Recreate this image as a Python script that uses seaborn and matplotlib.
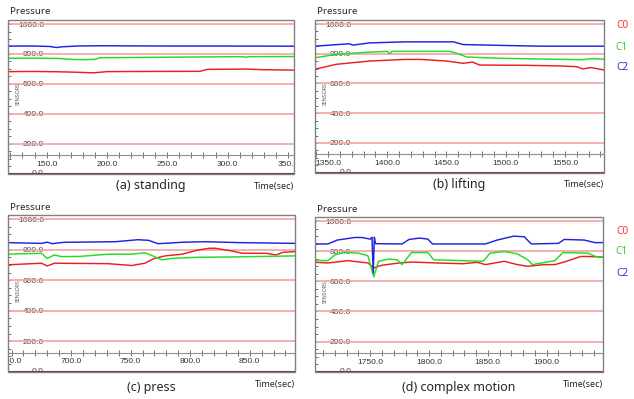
import numpy as np
import pandas as pd
import matplotlib
matplotlib.use("Agg")
import matplotlib.pyplot as plt
import seaborn as sns
from matplotlib.ticker import MultipleLocator, FormatStrFormatter
from matplotlib.patches import Rectangle

sns.set_style("white")
plt.rcParams["font.family"] = ["Noto Sans", "DejaVu Sans"]

# (a) standing
a_t_c0 = [118, 140, 160, 175, 189, 200, 230, 277, 283, 300, 315, 330, 355]
a_c0 = [682, 683, 681, 678, 674, 682, 683, 684, 697, 698, 699, 695, 692]
a_t_c1 = [118, 140, 160, 172, 180, 190, 194, 230, 277, 313, 315, 317, 355]
a_c1 = [771, 772, 770, 763, 762, 764, 775, 777, 780, 782, 777, 782, 783]
a_t_c2 = [118, 140, 153, 158, 163, 175, 194, 250, 300, 355]
a_c2 = [853, 853, 850, 843, 848, 853, 855, 853, 853, 852]

# (b) lifting
b_t_c0 = [1339, 1357, 1385, 1415, 1428, 1450, 1464, 1472, 1478, 1520, 1546, 1560, 1565, 1572, 1583]
b_c0 = [696, 729, 751, 762, 762, 751, 736, 744, 724, 722, 718, 713, 698, 707, 691]
b_t_c1 = [1339, 1357, 1385, 1400, 1402, 1404, 1453, 1458, 1467, 1497, 1551, 1565, 1573, 1583]
b_c1 = [773, 796, 811, 816, 800, 816, 816, 805, 778, 769, 762, 760, 767, 763]
b_t_c2 = [1339, 1364, 1368, 1371, 1385, 1415, 1456, 1464, 1497, 1530, 1583]
b_c2 = [851, 865, 867, 858, 873, 880, 880, 862, 856, 851, 851]

# (c) press
c_t_c0 = [645, 675, 680, 686, 731, 751, 762, 770, 779, 793, 807, 816, 821, 835, 844, 864, 872, 878, 888]
c_c0 = [700, 711, 693, 711, 708, 696, 711, 743, 759, 770, 798, 809, 809, 791, 776, 776, 765, 783, 787]
c_t_c1 = [645, 675, 680, 686, 692, 708, 731, 751, 762, 770, 776, 785, 807, 835, 888]
c_c1 = [770, 776, 743, 765, 754, 756, 770, 770, 780, 754, 733, 743, 750, 752, 759]
c_t_c2 = [645, 675, 680, 684, 694, 737, 756, 765, 773, 793, 813, 841, 888]
c_c2 = [846, 841, 849, 839, 848, 852, 865, 861, 839, 848, 852, 846, 841]

# (d) complex motion
d_t_c0 = [1703, 1714, 1731, 1748, 1753, 1760, 1775, 1786, 1806, 1829, 1841, 1848, 1864,
          1875, 1884, 1898, 1907, 1915, 1929, 1935, 1948]
d_c0 = [726, 722, 737, 722, 689, 707, 722, 728, 722, 717, 726, 711, 733,
        711, 700, 711, 711, 728, 765, 765, 761]
d_t_c1 = [1703, 1714, 1720, 1728, 1740, 1748, 1753, 1757, 1766, 1773, 1777, 1780, 1785,
          1799, 1804, 1846, 1852, 1864, 1875, 1884, 1888, 1907, 1914, 1935, 1943, 1948]
d_c1 = [739, 737, 776, 793, 787, 770, 630, 733, 748, 743, 711, 739, 791,
        791, 743, 733, 787, 798, 783, 743, 711, 737, 791, 787, 761, 763]
d_t_c2 = [1703, 1714, 1722, 1737, 1743, 1750, 1751.5, 1752.5, 1753.5, 1754.5, 1777, 1783, 1792,
          1799, 1803, 1848, 1858, 1872, 1881, 1887, 1910, 1915, 1932, 1941, 1948]
d_c2 = [848, 848, 874, 891, 891, 880, 893, 655, 893, 850, 848, 878, 887,
        880, 848, 848, 874, 900, 896, 848, 852, 878, 874, 857, 857]

panels = [
    ("(a) standing", (118, 355), [(a_t_c0, a_c0), (a_t_c1, a_c1), (a_t_c2, a_c2)]),
    ("(b) lifting", (1339, 1583), [(b_t_c0, b_c0), (b_t_c1, b_c1), (b_t_c2, b_c2)]),
    ("(c) press", (647, 888), [(c_t_c0, c_c0), (c_t_c1, c_c1), (c_t_c2, c_c2)]),
    ("(d) complex motion", (1703, 1948), [(d_t_c0, d_c0), (d_t_c1, d_c1), (d_t_c2, d_c2)]),
]
series_names = ["C0", "C1", "C2"]
line_colors = ["#e82020", "#22dd22", "#2222dd"]
label_colors = ["#ee3b3b", "#33cc33", "#3333cc"]

W, H = 634, 399
# axes boxes in pixels: left, top, right, bottom
boxes = [(8, 20, 294, 174), (315, 20, 604, 173), (8, 215, 295, 372), (315, 217, 603, 372)]

fig = plt.figure(figsize=(W / 100, H / 100), dpi=100)

for i, (title, xlim, series) in enumerate(panels):
    l, t, r, b = boxes[i]
    ax = fig.add_axes([l / W, (H - b) / H, (r - l) / W, (b - t) / H])

    for y in [200, 400, 600, 800, 1000]:
        ax.axhline(y, color="#f2a4a4", lw=1.2, zorder=1)
    ax.axhline(0, color="#7a2a60", lw=1.5, zorder=1)

    for name, (tt, vv), c in zip(series_names, series, line_colors):
        sns.lineplot(x=tt, y=vv, color=c, lw=1.05, ax=ax, zorder=3)

    ax.set_xlim(*xlim)
    ax.set_ylim(-2, 1027)

    # x axis drawn inside the plot
    for s in ["top", "right", "left"]:
        ax.spines[s].set_visible(False)
    ax.spines["bottom"].set_position(("data", 124))
    ax.spines["bottom"].set_color("#909090")
    ax.spines["bottom"].set_linewidth(0.8)
    ax.xaxis.set_major_locator(MultipleLocator(50))
    ax.xaxis.set_minor_locator(MultipleLocator(10))
    ax.xaxis.set_major_formatter(FormatStrFormatter("%.1f"))
    ax.tick_params(axis="x", which="both", direction="inout", length=4, width=0.7,
                   color="#707070", labelsize=6, labelcolor="#333333", pad=2,
                   bottom=True)

    ax.set_yticks([200, 400, 600, 800, 1000])
    ax.yaxis.set_minor_locator(MultipleLocator(50))
    ax.yaxis.set_major_formatter(FormatStrFormatter("%.1f"))
    ax.tick_params(axis="y", which="both", direction="in", length=2.5, width=0.7,
                   color="#707070", labelsize=6, labelcolor="#444444", pad=-26,
                   left=True)
    for lbl in ax.get_xticklabels() + ax.get_yticklabels():
        lbl.set_fontfamily("Liberation Sans")
    # labels are cut at the frame, like the source software does
    for tick in ax.xaxis.get_major_ticks():
        tick.label1.set_clip_box(ax.bbox)
        tick.label1.set_clip_on(True)

    ax.text(36 / (r - l), 0, "0.0", transform=ax.get_yaxis_transform(), ha="right",
            va="center", fontsize=6, color="#444444", family="Liberation Sans",
            clip_on=True)
    ax.text(0.035, 0.52, "SENSORS", transform=ax.transAxes, rotation=90, ha="center",
            va="center", fontsize=3.8, color="#555555")
    ax.set_xlabel("")
    ax.set_ylabel("")

    ax.add_patch(Rectangle((0, 0), 1, 1, transform=ax.transAxes, fill=False,
                           edgecolor="#808080", lw=1.0, clip_on=False, zorder=5))

    # titles around each panel
    fig.text((l + 2) / W, 1 - (t - 8) / H, "Pressure", fontsize=7, va="center", ha="left")
    cap_y = b + 12 if i < 2 else b + 16
    fig.text(((l + r) / 2) / W, 1 - cap_y / H, title, fontsize=9, ha="center", va="center")
    fig.text(r / W, 1 - (b + 12) / H, "Time(sec)", fontsize=6.5, ha="right", va="center")

# legend labels at the right
for y0 in [26, 231]:
    for k, (name, c) in enumerate(zip(series_names, label_colors)):
        fig.text(622 / W, 1 - (y0 + 21 * k) / H, name, color=c, fontsize=7.3,
                 fontweight="bold", ha="center", va="center")

fig.savefig("out.png", dpi=100)
